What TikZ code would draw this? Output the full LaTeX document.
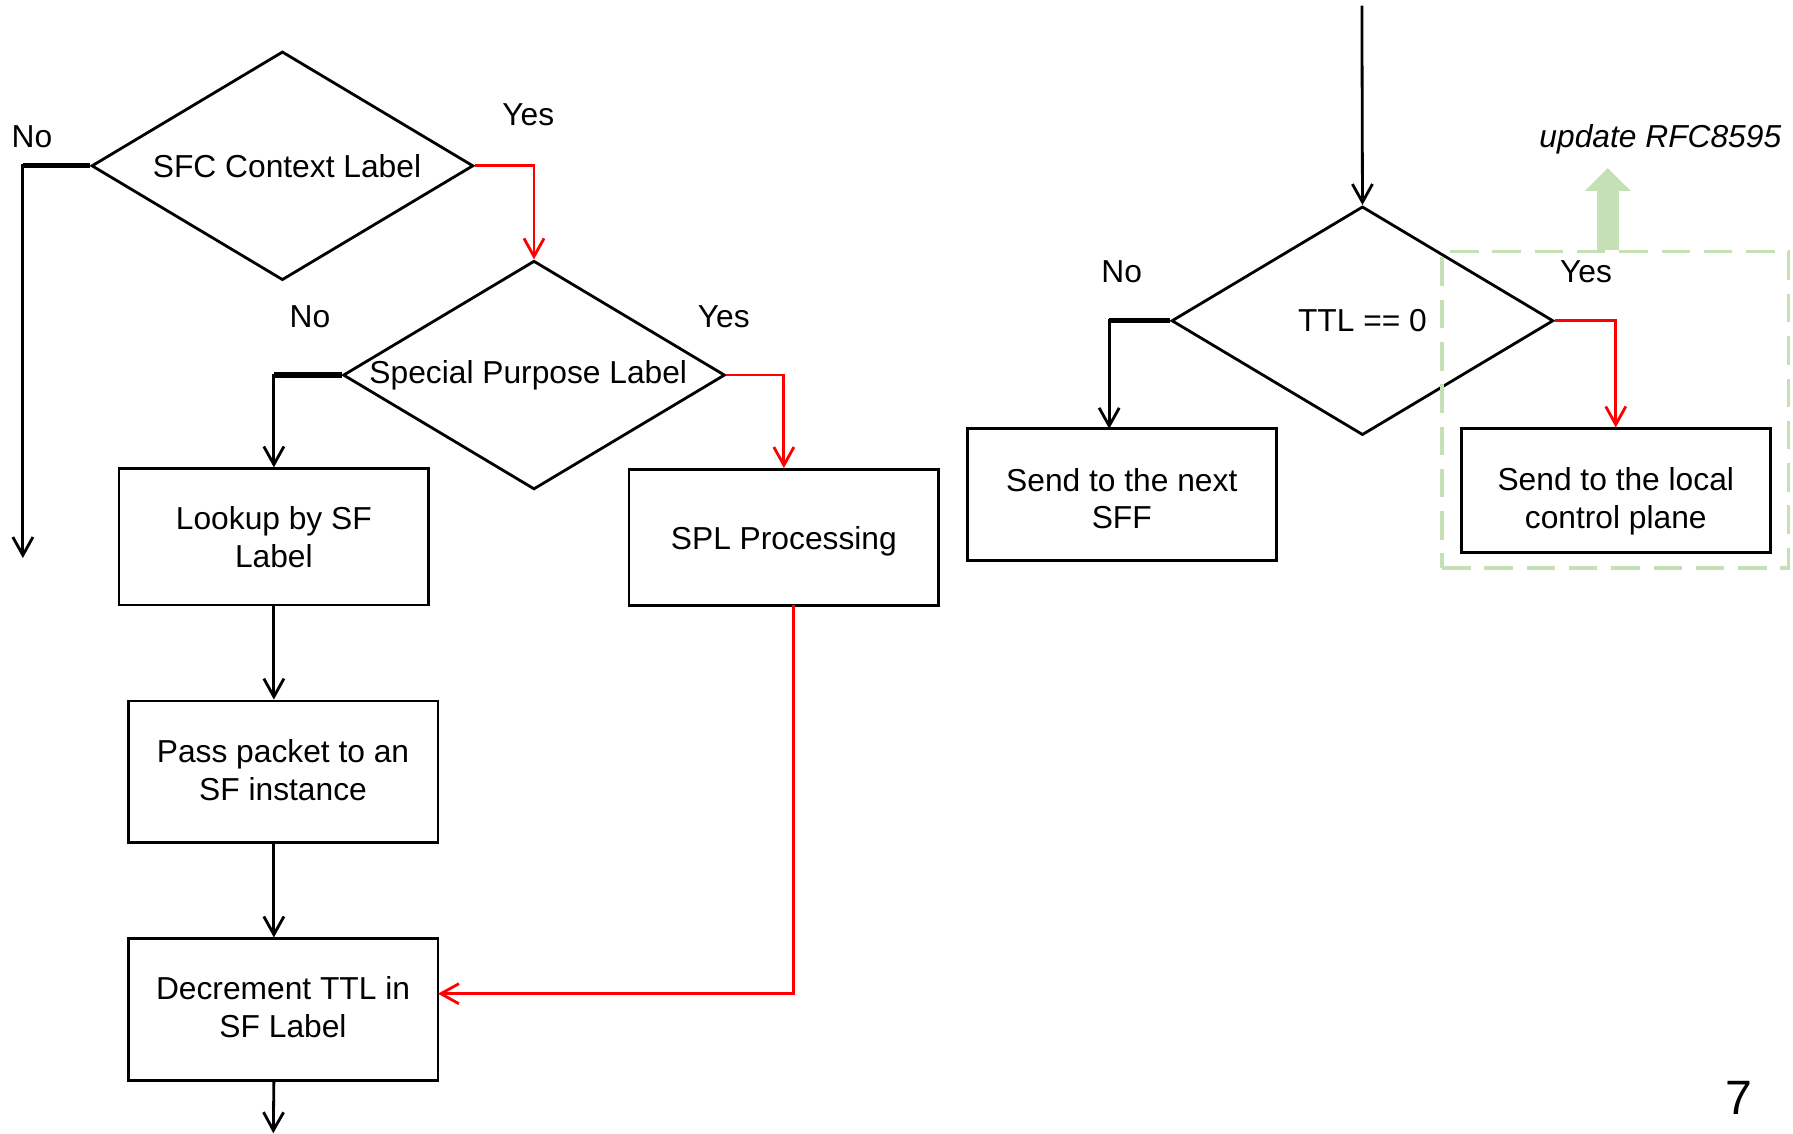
\documentclass[tikz,border=0pt]{standalone}
\usepackage{fontspec}
\setmainfont{Liberation Sans}
\usetikzlibrary{shapes.geometric,arrows.meta}
\definecolor{rfcgreen}{RGB}{197,224,180}
\begin{document}
\begin{tikzpicture}[x=0.02cm, y=-0.02cm, line width=1.4pt, >={Straight Barb[length=9pt,width=10pt]}, font=\fontsize{15.8}{18.8}\selectfont]
        \tikzstyle{box} = [draw, rectangle, align=center, minimum width=5.42cm, minimum height=2.38cm, inner sep=2pt]
        \tikzstyle{decision} = [draw, diamond, minimum width=6.68cm, minimum height=4cm, inner sep=0pt]
        \tikzstyle{redline} = [red, ->]
        \tikzstyle{nostub} = [line width=2.6pt]
        \useasboundingbox (0,0) rectangle (1568,991);

        \node[decision](SFC) at (247,145) {\makebox[0pt]{\hspace{0.16cm}SFC Context Label}};
        \node[decision](SPLabel) at (467,328) {\makebox[0pt]{\hspace{-0.2cm}Special Purpose Label}};
        \node[box](Lookup) at (239.5,469.5) {Lookup by SF\\Label};
        \node[box, text height=15pt](SPLProc) at (685.5,470) {SPL Processing};
        \node[box, minimum height=2.48cm, text height=28.5pt](Pass) at (247.5,675) {Pass packet to an\\SF instance};
        \node[box, minimum height=2.48cm, text height=27.4pt](Decrement) at (247.5,883) {Decrement TTL in\\SF Label};
        \node[decision](TTL) at (1191.5,280.5) {\makebox[0pt]{TTL == 0}};
        \node[box, minimum width=5.4cm, minimum height=2.3cm, text height=34.2pt](NextSFF) at (981,432.5) {Send to the next\\SFF};
        \node[box, minimum width=5.4cm, minimum height=2.16cm, text height=41pt](Local) at (1413,429) {Send to the local\\control plane};
        \node[draw=rfcgreen, dashed, dash pattern=on 0.5cm off 0.24cm, line width=1.8pt, minimum width=6.06cm, minimum height=5.54cm](RFCBox) at (1412.5,358.5) {};

        \node(NoSFC) at (28,120) {No};
        \node(YesSFC) at (462,100) {Yes};
        \node(NoSPL) at (271,277) {No};
        \node(YesSPL) at (633,277) {Yes};
        \node(NoTTL) at (981,238) {No};
        \node(YesTTL) at (1387,238) {Yes};
        \node(Update) at (1452,122) {\itshape update RFC8595};
        \node(Page) at (1521,960) {\fontsize{24}{28}\selectfont 7};

        \coordinate(SFCOut) at (20,488);
        \coordinate(DecOut) at (239,991);
        \coordinate(TTLIn) at (1191,5);
        \coordinate(NextIn) at (970,375);
        \coordinate(SPLDown) at (694,529);
        \coordinate(DecIn) at (383,869);
        \coordinate(RFCTip) at (1406,147);

        \draw [->] (SFC.west) -| (SFCOut);
        \draw [nostub] (SFC.west) -- (SFC.west -| SFCOut);
        \draw [redline] (SFC.east) -| (SPLabel.north);
        \draw [->] (SPLabel.west) -| (Lookup.north);
        \draw [nostub] (SPLabel.west) -- (SPLabel.west -| Lookup.north);
        \draw [redline] (SPLabel.east) -| (SPLProc.north);
        \draw [->] (Lookup.south) -- (Lookup.south |- Pass.north);
        \draw [->] (Lookup.south |- Pass.south) -- (Lookup.south |- Decrement.north);
        \draw [->] (Lookup.south |- Decrement.south) -- (DecOut);
        \draw [redline] (SPLDown) |- (DecIn);

        \draw [->] (TTLIn) -- (TTL.north);
        \draw [->] (TTL.west) -| (NextIn);
        \draw [nostub] (TTL.west) -- (TTL.west -| NextIn);
        \draw [redline] (TTL.east) -| (Local.north);
        \draw [rfcgreen, line width=0.39cm, -{Triangle[length=0.4cm, width=0.78cm]}] (RFCTip |- RFCBox.north) -- (RFCTip);

    \end{tikzpicture}
\end{document}
